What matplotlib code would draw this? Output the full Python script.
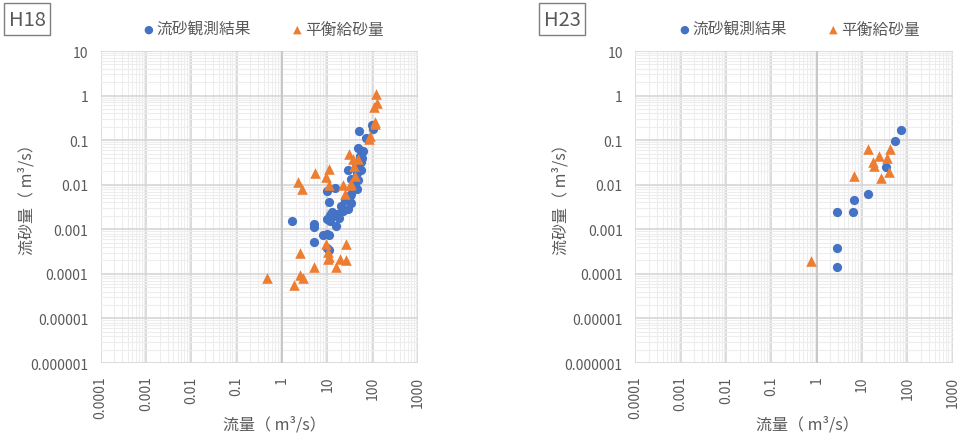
import matplotlib
matplotlib.use("Agg")
import matplotlib.pyplot as plt
from matplotlib.ticker import LogLocator, NullFormatter, FixedLocator

plt.rcParams['font.family'] = ['Noto Sans CJK JP', 'DejaVu Sans']

# ---------------- data ----------------
h18_obs_q = [50.7, 100, 95, 71, 48, 61, 52, 56, 47, 56, 29, 48, 34, 40, 14.8, 9.6, 34, 34,
             11, 19.6, 29, 11.4, 16, 13.5, 18, 9.6, 11.4, 15.7, 1.63, 5.0, 5.0, 9.6, 8.2,
             11, 5.0, 9.6, 11, 42, 45, 38, 26, 22, 31, 44, 12.5, 36, 58, 24]
h18_obs_qs = [0.158, 0.18, 0.22, 0.11, 0.066, 0.058, 0.045, 0.032, 0.032, 0.021, 0.021, 0.0125,
              0.0136, 0.0095, 0.0084, 0.0071, 0.0062, 0.0039, 0.0042, 0.0034, 0.0028, 0.0021,
              0.0022, 0.002, 0.0018, 0.0017, 0.0015, 0.00121, 0.00157, 0.00133, 0.00113,
              0.00078, 0.00075, 0.00075, 0.00052, 0.00039, 0.00035, 0.026, 0.018, 0.011,
              0.0048, 0.0026, 0.0055, 0.008, 0.0024, 0.0085, 0.04, 0.0045]
h18_eq_q = [118, 123, 107, 112, 110, 87, 84, 30.5, 36, 48, 38.7, 40.7, 31, 34, 21.8, 24.3,
            5.3, 11, 9.2, 11, 2.3, 2.7, 9.2, 25.7, 10.4, 10.7, 10.3, 18.6, 25.7, 15.7, 2.55,
            5.0, 2.55, 2.9, 1.85, 0.47]
h18_eq_qs = [1.09, 0.68, 0.55, 0.26, 0.23, 0.126, 0.107, 0.049, 0.038, 0.038, 0.026, 0.0155,
             0.0098, 0.0104, 0.0098, 0.0062, 0.018, 0.0226, 0.0146, 0.0098, 0.0117, 0.0081,
             0.00047, 0.00047, 0.000306, 0.00024, 0.00022, 0.00022, 0.0002, 0.00014, 0.0003,
             0.00014, 0.000095, 0.000081, 0.000055, 0.00008]

h23_obs_q = [71.6, 54.6, 34, 13.6, 6.7, 6.2, 2.86, 2.86, 2.86]
h23_obs_qs = [0.172, 0.094, 0.0255, 0.0062, 0.0045, 0.0024, 0.0024, 0.00038, 0.000139]
h23_eq_q = [13.6, 24, 41, 35.6, 17.7, 18.5, 38.4, 26.7, 6.7, 0.76]
h23_eq_qs = [0.0635, 0.045, 0.0635, 0.039, 0.033, 0.026, 0.0197, 0.014, 0.0155, 0.00019]

x_ticks = [0.0001, 0.001, 0.01, 0.1, 1, 10, 100, 1000]
x_labels = ['0.0001', '0.001', '0.01', '0.1', '1', '10', '100', '1000']
y_ticks = [0.000001, 0.00001, 0.0001, 0.001, 0.01, 0.1, 1, 10]
y_labels = ['0.000001', '0.00001', '0.0001', '0.001', '0.01', '0.1', '1', '10']

series_names = ['流砂観測結果', '平衡給砂量']
panel_titles = ['H18', 'H23']
xlabel = '流量（ m³/s）'
ylabel = '流砂量（ m³/s）'

BLUE = '#4472C4'
ORANGE = '#ED7D31'
TXT = '#595959'

W, H = 959, 435
fig = plt.figure(figsize=(W / 100, H / 100), dpi=100)


def ax_rect(x0, x1, y0, y1):
    return [x0 / W, 1 - y1 / H, (x1 - x0) / W, (y1 - y0) / H]


panels = [
    dict(rect=ax_rect(100.7, 418, 52, 364), obs=(h18_obs_q, h18_obs_qs), eq=(h18_eq_q, h18_eq_qs),
         title=panel_titles[0], box=(2, 2, 52, 38), ylab_x=27, xlab_x=274, leg_x=148),
    dict(rect=ax_rect(635.3, 952.7, 52, 364), obs=(h23_obs_q, h23_obs_qs), eq=(h23_eq_q, h23_eq_qs),
         title=panel_titles[1], box=(536, 3, 588, 37), ylab_x=561, xlab_x=807, leg_x=684),
]

for p in panels:
    ax = fig.add_axes(p['rect'])
    ax.set_xscale('log')
    ax.set_yscale('log')
    ax.set_xlim(1e-4, 1e3)
    ax.set_ylim(1e-6, 10)
    ax.xaxis.set_major_locator(FixedLocator(x_ticks))
    ax.yaxis.set_major_locator(FixedLocator(y_ticks))
    ax.set_xticklabels(x_labels, rotation=90)
    ax.set_yticklabels(y_labels)
    ax.xaxis.set_minor_locator(LogLocator(base=10, subs=range(2, 10), numticks=100))
    ax.yaxis.set_minor_locator(LogLocator(base=10, subs=range(2, 10), numticks=100))
    ax.xaxis.set_minor_formatter(NullFormatter())
    ax.yaxis.set_minor_formatter(NullFormatter())
    ax.tick_params(which='both', length=0, colors=TXT, labelsize=10)
    ax.tick_params(axis='y', pad=9)
    ax.tick_params(axis='x', pad=9)
    ax.grid(which='minor', color='#EDEDED', linewidth=0.8)
    ax.grid(which='major', color='#D6D6D6', linewidth=1.2)
    ax.set_axisbelow(True)
    for s in ax.spines.values():
        s.set_visible(False)
    ax.axvline(1, color='#C8C8C8', linewidth=1.4, zorder=1)

    ax.scatter(p['obs'][0], p['obs'][1], s=44, marker='o', color=BLUE, zorder=3, linewidths=0)
    ax.scatter(p['eq'][0], p['eq'][1], s=58, marker='^', color=ORANGE, zorder=4, linewidths=0)

    # axis labels
    fig.text(p['xlab_x'] / W, 1 - 425 / H, xlabel, ha='center', va='center',
             fontsize=11.5, color=TXT)
    fig.text(p['ylab_x'] / W, 1 - 196 / H, ylabel, rotation=90, ha='center', va='center',
             fontsize=11.5, color=TXT)

    # panel title box
    bx0, by0, bx1, by1 = p['box']
    fig.text((bx0 + bx1) / 2 / W, 1 - (by0 + by1) / 2 / H, p['title'], ha='center', va='center',
             fontsize=14.5, color=TXT,
             bbox=dict(boxstyle='square,pad=0.25', facecolor='white', edgecolor='#7F7F7F', linewidth=1))

    # legend
    lx = p['leg_x']
    ly = 1 - 30 / H
    fig.text(lx / W, ly, '●', ha='center', va='center', fontsize=8, color=BLUE, family='DejaVu Sans')
    fig.text((lx + 8) / W, ly, series_names[0], ha='left', va='center', fontsize=11.3, color=TXT)
    fig.text((lx + 149) / W, ly, '▲', ha='center', va='center', fontsize=8, color=ORANGE, family='DejaVu Sans')
    fig.text((lx + 157) / W, ly, series_names[1], ha='left', va='center', fontsize=11.3, color=TXT)

fig.savefig('out.png', dpi=100)
